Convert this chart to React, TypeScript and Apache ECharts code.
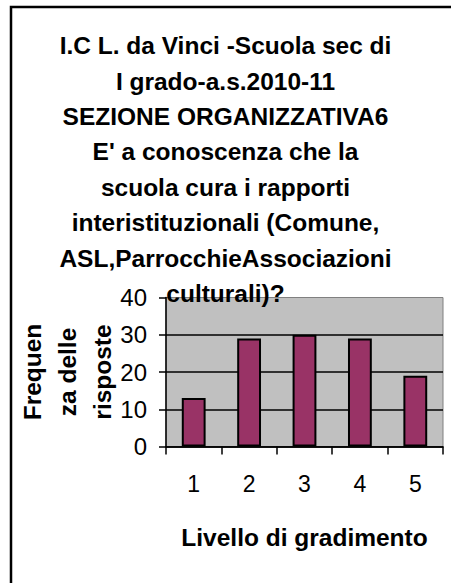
import React, { useEffect, useRef } from "react";
import * as echarts from "echarts";

const titleLines = [
  "I.C L. da Vinci -Scuola sec di",
  "I grado-a.s.2010-11",
  "SEZIONE ORGANIZZATIVA6",
  "E' a conoscenza che la",
  "scuola cura i rapporti",
  "interistituzionali (Comune,",
  "ASL,ParrocchieAssociazioni",
  "culturali)?",
];
const categories = ["1", "2", "3", "4", "5"];
const values = [13, 29, 30, 29, 19];
const yAxisName = ["Frequen", "za delle", "risposte"];
const xAxisName = "Livello di gradimento";

export default function App() {
  const ref = useRef<HTMLDivElement>(null);
  useEffect(() => {
    if (!ref.current) return;
    const chart = echarts.init(ref.current, undefined, { renderer: "svg" });
    const font = "'Liberation Sans', Arial, sans-serif";
    chart.setOption({
      animation: false,
      backgroundColor: "#ffffff",
      title: {
        text: titleLines.join("\n"),
        left: "center",
        top: 28,
        padding: [0, 0, 0, 7],
        textStyle: {
          fontFamily: font,
          fontSize: 24.5,
          fontWeight: "bold",
          color: "#000000",
          lineHeight: 35.4,
        },
        z: 10,
      },
      graphic: [
        {
          type: "rect",
          shape: { x: 11, y: 7, width: 480, height: 620 },
          style: { fill: "none", stroke: "#000000", lineWidth: 2.5 },
          z: 100,
          silent: true,
        },
      ],
      grid: {
        left: 166,
        right: 8,
        top: 297.5,
        bottom: 136.5,
        outerBoundsMode: "none",
        containLabel: false,
        show: true,
        backgroundColor: "#C0C0C0",
        borderColor: "#808080",
        borderWidth: 1,
      },
      xAxis: {
        type: "category",
        data: categories,
        name: xAxisName,
        nameLocation: "middle",
        nameGap: 78,
        nameMoveOverlap: false,
        nameTextStyle: {
          fontFamily: font,
          fontSize: 24.5,
          fontWeight: "bold",
          color: "#000000",
        },
        axisLine: { lineStyle: { color: "#000000", width: 1.5 } },
        axisTick: { show: true, length: 8, lineStyle: { color: "#000000", width: 1.5 } },
        axisLabel: {
          fontFamily: font,
          fontSize: 23,
          color: "#000000",
          margin: 26,
        },
      },
      yAxis: {
        type: "value",
        min: 0,
        max: 40,
        interval: 10,
        name: yAxisName.join("\n"),
        nameLocation: "middle",
        nameRotate: 90,
        nameGap: 46,
        nameMoveOverlap: false,
        nameTextStyle: {
          fontFamily: font,
          fontSize: 24.5,
          fontWeight: "bold",
          color: "#000000",
          lineHeight: 35,
        },
        axisLine: { show: true, lineStyle: { color: "#000000", width: 1.5 } },
        axisTick: { show: true, length: 7, lineStyle: { color: "#000000", width: 1.5 } },
        axisLabel: {
          fontFamily: font,
          fontSize: 24,
          color: "#000000",
          margin: 19,
        },
        splitLine: {
          show: true,
          showMaxLine: false,
          lineStyle: { color: "#000000", width: 1.5 },
        },
      },
      series: [
        {
          type: "bar",
          data: values,
          barWidth: "43%",
          itemStyle: {
            color: "#993366",
            borderColor: "#000000",
            borderWidth: 2,
          },
        },
      ],
    });
    return () => chart.dispose();
  }, []);
  return (
    <div
      ref={ref}
      style={{ position: "fixed", left: 0, top: 0, width: 451, height: 583 }}
    />
  );
}
